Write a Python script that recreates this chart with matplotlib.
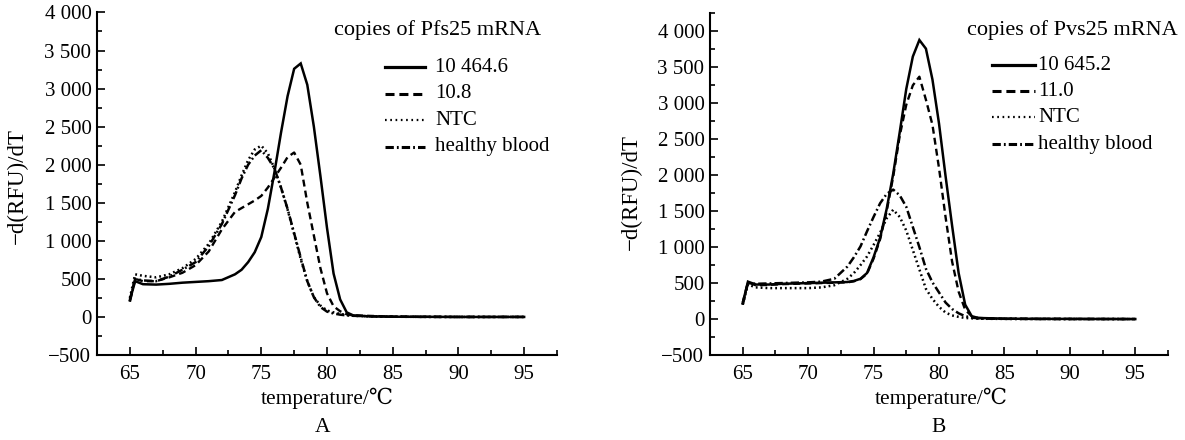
import matplotlib
matplotlib.use("Agg")
import matplotlib.pyplot as plt
from matplotlib.ticker import MultipleLocator, FuncFormatter
from matplotlib.lines import Line2D

plt.rcParams['font.family'] = ['Liberation Serif', 'DejaVu Serif', 'DejaVu Sans', 'Noto Sans CJK SC']
plt.rcParams['lines.scale_dashes'] = False

# ---------------- data ----------------
temp_A = [65, 65.4, 66, 67, 68, 69, 70, 71, 72, 73, 73.5, 74, 74.5, 75, 75.5, 76, 76.5,
          77, 77.5, 78, 78.5, 79, 79.5, 80, 80.5, 81, 81.5, 82, 83, 84, 85, 87, 90, 95]
pfs_high = [220, 470, 430, 425, 435, 450, 460, 470, 485, 560, 620, 720, 850, 1050, 1420, 1900, 2420,
            2900, 3260, 3330, 3050, 2500, 1850, 1170, 570, 230, 60, 20, 10, 5, 3, 2, 0, 0]
pfs_low = [230, 500, 470, 470, 520, 580, 680, 860, 1150, 1380, 1430, 1480, 1530, 1590, 1700, 1830, 1960,
           2100, 2160, 2000, 1500, 1070, 640, 310, 140, 75, 35, 20, 15, 10, 5, 2, 0, 0]
pfs_ntc = [250, 560, 540, 520, 560, 640, 760, 960, 1250, 1640, 1860, 2060, 2200, 2250, 2150, 1950, 1700,
           1410, 1090, 760, 470, 260, 150, 85, 60, 40, 25, 15, 8, 5, 3, 1, 0, 0]
pfs_blood = [200, 500, 480, 470, 530, 620, 720, 930, 1220, 1600, 1820, 2000, 2120, 2190, 2090, 1950, 1700,
             1420, 1100, 780, 470, 260, 130, 70, 45, 30, 20, 15, 10, 5, 3, 1, 0, 0]

temp_B = [65, 65.4, 66, 67, 68, 69, 70, 71, 72, 73, 73.5, 74, 74.5, 75, 75.5, 76, 76.5,
          77, 77.5, 78, 78.5, 79, 79.5, 80, 80.5, 81, 81.5, 82, 82.5, 83, 84, 85, 87, 90, 95]
pvs_high = [220, 520, 480, 480, 490, 495, 500, 505, 510, 515, 530, 560, 640, 860, 1130, 1530, 2020,
            2600, 3200, 3650, 3880, 3760, 3330, 2720, 1990, 1300, 640, 200, 40, 15, 10, 5, 3, 2, 0]
pvs_low = [230, 510, 470, 475, 485, 490, 495, 500, 505, 510, 525, 555, 630, 840, 1110, 1500, 1980,
           2550, 2980, 3250, 3370, 3050, 2700, 2100, 1420, 800, 380, 130, 40, 15, 8, 5, 3, 2, 0]
pvs_ntc = [200, 480, 440, 430, 430, 430, 430, 440, 470, 560, 640, 750, 870, 1030, 1200, 1400, 1520,
           1420, 1230, 960, 690, 420, 280, 170, 90, 50, 30, 15, 10, 5, 3, 2, 1, 0, 0]
pvs_blood = [200, 500, 490, 495, 500, 505, 510, 520, 560, 730, 860, 1010, 1220, 1420, 1610, 1740, 1800,
             1720, 1560, 1280, 1000, 700, 510, 370, 230, 140, 80, 40, 20, 10, 5, 3, 1, 0, 0]

labels_A = ["10 464.6", "10.8", "NTC", "healthy blood"]
labels_B = ["10 645.2", "11.0", "NTC", "healthy blood"]
title_A = "copies of Pfs25 mRNA"
title_B = "copies of Pvs25 mRNA"
xlabel = "temperature/℃"
ylabel = "−d(RFU)/dT"
xticks = [65, 70, 75, 80, 85, 90, 95]
yticks = [-500, 0, 500, 1000, 1500, 2000, 2500, 3000, 3500, 4000]

# ---------------- styles ----------------
styles = [
    dict(linestyle='-', linewidth=1.8),
    dict(linestyle=(0, (5, 3)), linewidth=1.7),
    dict(linestyle=(0, (1.3, 2.2)), linewidth=1.8),
    dict(linestyle=(0, (6, 2.2, 1.3, 2.2)), linewidth=1.8),
]
leg_styles = [
    dict(linestyle='-', linewidth=2.3),
    dict(linestyle=(0, (6.5, 3.5)), linewidth=2.2),
    dict(linestyle=(0, (1.2, 2.6)), linewidth=1.6),
    dict(linestyle=(0, (6, 2.2, 1.3, 2.2)), linewidth=2.2),
]

W, H = 1185, 440
fig = plt.figure(figsize=(W / 100, H / 100), dpi=100)


def fx(x):
    return x / W


def fy(y):
    return 1 - y / H


def fmt(v, pos):
    v = int(round(v))
    s = f"{abs(v):,}".replace(",", " ")
    return ("−" if v < 0 else "") + s


def make_axes(l, r, top, ytop):
    ax = fig.add_axes([fx(l), fy(355), fx(r) - fx(l), fy(top) - fy(355)])
    ax.set_xlim(62.5, 97.5)
    ax.set_ylim(-500, ytop)
    ax.set_xticks(xticks)
    ax.set_yticks(yticks)
    ax.xaxis.set_minor_locator(MultipleLocator(2.5))
    ax.yaxis.set_minor_locator(MultipleLocator(250))
    ax.yaxis.set_major_formatter(FuncFormatter(fmt))
    for s in ['top', 'right']:
        ax.spines[s].set_visible(False)
    for s in ['left', 'bottom']:
        ax.spines[s].set_linewidth(1.5)
    ax.tick_params(which='both', direction='in', width=1.2, labelsize=15, top=False, right=False)
    ax.tick_params(which='major', length=5.5)
    ax.tick_params(which='minor', length=3.6)
    ax.tick_params(axis='y', pad=4)
    ax.tick_params(axis='x', pad=7)
    return ax


def draw(ax, t, series):
    for vals, st in zip(series, styles):
        ax.plot(t, vals, color='black', solid_joinstyle='miter', **st)


def legend(title, title_cx, line_x0, line_x1, text_x, rows, labels):
    fig.text(fx(title_cx), fy(30), title, ha='center', va='center', fontsize=16)
    for yy, lab, st in zip(rows, labels, leg_styles):
        fig.add_artist(Line2D([fx(line_x0), fx(line_x1)], [fy(yy), fy(yy)],
                              transform=fig.transFigure, color='black', **st))
        fig.text(fx(text_x), fy(yy), lab, ha='left', va='center', fontsize=15)


# Panel A
axA = make_axes(97, 557, 11.7, 4010)
draw(axA, temp_A, [pfs_high, pfs_low, pfs_ntc, pfs_blood])
legend(title_A, 438, 385, 425, 435, [67, 93.7, 120.3, 147], labels_A)
fig.text(fx(327), fy(398), xlabel, ha='center', va='center', fontsize=15.5)
fig.text(fx(323), fy(427), "A", ha='center', va='center', fontsize=15.5)
fig.text(fx(17), fy(186), ylabel, ha='center', va='center', rotation=90, fontsize=16.5)

# Panel B
axB = make_axes(710, 1168, 12.7, 4260)
draw(axB, temp_B, [pvs_high, pvs_low, pvs_ntc, pvs_blood])
legend(title_B, 1072, 992, 1035, 1038, [65, 91, 117, 144], labels_B)
fig.text(fx(941), fy(398), xlabel, ha='center', va='center', fontsize=15.5)
fig.text(fx(939), fy(427), "B", ha='center', va='center', fontsize=15.5)
fig.text(fx(631), fy(192), ylabel, ha='center', va='center', rotation=90, fontsize=16.5)

fig.savefig("out.png", dpi=100)
